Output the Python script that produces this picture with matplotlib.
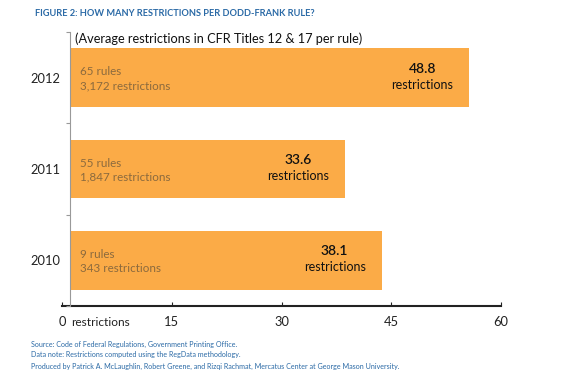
import matplotlib
matplotlib.use("Agg")
import matplotlib.pyplot as plt

years = ["2010", "2011", "2012"]
avg_restrictions = [38.1, 33.6, 48.8]
rules = [9, 55, 65]
total_restrictions = ["343", "1,847", "3,172"]
x_ticks = [0, 15, 30, 45, 60]
x_tick_labels = ["0", "15", "30", "45", "60"]

title = "FIGURE 2: HOW MANY RESTRICTIONS PER DODD-FRANK RULE?"
subtitle = "(Average restrictions in CFR Titles 12 & 17 per rule)"
source_lines = [
    "Source: Code of Federal Regulations, Government Printing Office.",
    "Data note: Restrictions computed using the RegData methodology.",
    "Produced by Patrick A. McLaughlin, Robert Greene, and Rizqi Rachmat, Mercatus Center at George Mason University.",
]

plt.rcParams['font.family'] = ['Lato', 'DejaVu Sans']

W, H = 585, 380
fig = plt.figure(figsize=(W / 100, H / 100), dpi=100)

# axes placement in pixels
ax_left_px, ax_right_px = 62, 501
ax_top_px, ax_bot_px = 32, 306
ax = fig.add_axes([ax_left_px / W, 1 - ax_bot_px / H,
                   (ax_right_px - ax_left_px) / W, (ax_bot_px - ax_top_px) / H])

# bar scale: 0 at px 70, 8.2 px per restriction
zero_px = 70
ppu = 8.18
ax.set_xlim((ax_left_px - zero_px) / ppu, (ax_right_px - zero_px) / ppu)
ax.set_ylim(-0.5, 2.5)

bar_color = "#FBAB47"
ypos = list(range(len(years)))
ax.barh(ypos, avg_restrictions, height=0.64, color=bar_color, zorder=2)

for y, v, r, t in zip(ypos, avg_restrictions, rules, total_restrictions):
    ax.annotate(f"{r} rules\n{t} restrictions", xy=(0, y), xytext=(10, -1),
                textcoords="offset pixels", ha="left", va="center",
                fontsize=8.4, color="#8B6A3E", linespacing=1.3, zorder=3)
    ax.annotate(f"{v}", xy=(v, y), xytext=(-47, 9),
                textcoords="offset pixels", ha="center", va="center",
                fontsize=10, color="#111111", fontweight="semibold", zorder=3)
    ax.annotate("restrictions", xy=(v, y), xytext=(-47, -7),
                textcoords="offset pixels", ha="center", va="center",
                fontsize=9.0, color="#111111", zorder=3)

# y-axis
ax.spines['left'].set_position(('data', 0))
ax.spines['left'].set_color("#999999")
ax.spines['left'].set_linewidth(0.8)
for s in ['top', 'right', 'bottom']:
    ax.spines[s].set_visible(False)
ax.set_yticks(ypos)
ax.set_yticklabels(years, fontsize=9.3, color="#222222")
ax.tick_params(axis='y', length=0, pad=7)
ax.set_yticks([-0.5, 0.5, 1.5, 2.5], minor=True)
ax.tick_params(axis='y', which='minor', length=3, color="#999999", width=0.8)
ax.set_xticks([])

# labelled x-axis (its own scale)
tick_ppu = (501 - 62) / 60.0
def fwd(x):
    return (x * ppu + zero_px - ax_left_px) / tick_ppu
def inv(t):
    return (t * tick_ppu + ax_left_px - zero_px) / ppu
sec = ax.secondary_xaxis('bottom', functions=(fwd, inv))
sec.set_xticks(x_ticks)
sec.set_xticklabels(x_tick_labels, fontsize=9.3, color="#222222")
sec.tick_params(axis='x', direction='in', length=3, width=0.8, color="#222222", pad=7)
sec.spines['bottom'].set_color("#222222")
sec.spines['bottom'].set_linewidth(1.5)
ax.annotate("restrictions", xy=(inv(0), -0.5), xytext=(9, -16),
            textcoords="offset pixels", ha="left", va="center",
            fontsize=8.6, color="#222222")

fig.text(35 / W, 1 - 13 / H, title, fontsize=6.7, fontweight="bold",
         color="#2B6AA6", ha="left", va="center")
ax.annotate(subtitle, xy=(0, 2.5), xytext=(5, -7), textcoords="offset pixels",
            ha="left", va="center", fontsize=9.2, color="#111111")

for i, line in enumerate(source_lines):
    fig.text(31 / W, 1 - (344 + 11 * i) / H, line, fontsize=5.1,
             color="#2B6AA6", ha="left", va="center")

fig.savefig("out.png", dpi=100)
